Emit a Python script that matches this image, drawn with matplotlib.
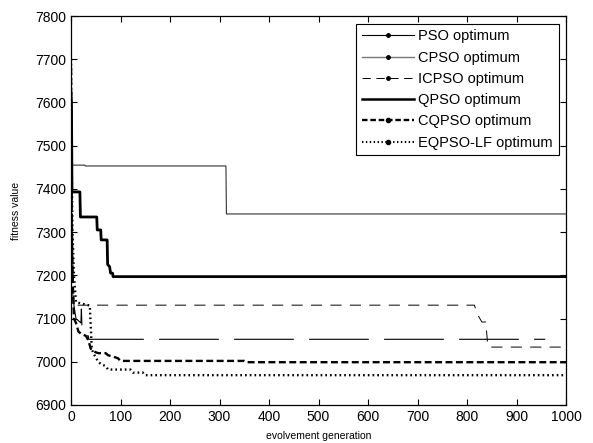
import matplotlib
matplotlib.use('Agg')
import matplotlib.pyplot as plt
from matplotlib.lines import Line2D

plt.rcParams['font.family'] = ['Liberation Sans', 'DejaVu Sans']
plt.rcParams['lines.scale_dashes'] = False

# convergence curves
pso_x = [1, 28, 29, 313, 314, 1000]
pso_y = [7455, 7455, 7453, 7453, 7342, 7342]

cpso_x = [1, 3, 6, 10, 15, 20, 21, 22, 28, 29, 35, 36, 958]
cpso_y = [7500, 7250, 7130, 7100, 7095, 7090, 7122, 7085, 7085, 7060, 7060, 7052, 7052]

icpso_x = [0, 2, 4, 815, 820, 830, 838, 842, 848, 1000]
icpso_y = [7750, 7300, 7131, 7131, 7112, 7092, 7092, 7036, 7034, 7034]

qpso_x = [0, 1, 2, 18, 19, 52, 53, 60, 61, 73, 74, 78, 80, 84, 85, 1000]
qpso_y = [7620, 7590, 7393, 7393, 7335, 7335, 7305, 7305, 7282, 7282, 7225, 7220, 7205, 7205, 7197, 7197]

cqpso_x = [0, 1, 3, 6, 10, 15, 20, 30, 35, 40, 45, 50, 55, 70, 75, 85, 95, 100, 350, 355, 1000]
cqpso_y = [7680, 7400, 7200, 7100, 7090, 7070, 7065, 7060, 7050, 7030, 7025, 7022, 7020, 7020,
           7015, 7012, 7008, 7002, 7002, 6999, 6999]

eqpso_x = [0, 1, 3, 6, 10, 38, 40, 42, 45, 50, 55, 60, 70, 75, 120, 125, 145, 150, 1000]
eqpso_y = [7700, 7500, 7300, 7200, 7138, 7130, 7080, 7030, 7020, 7010, 7000, 6995, 6990, 6982,
           6982, 6975, 6975, 6969, 6969]

labels = ['PSO optimum', 'CPSO optimum', 'ICPSO optimum', 'QPSO optimum',
          'CQPSO optimum', 'EQPSO-LF optimum']

fig = plt.figure(figsize=(5.93, 4.43), dpi=100)
ax = fig.add_axes([71 / 593, 1 - 405 / 443, 495 / 593, 389 / 443])

ax.plot(pso_x, pso_y, color='#333333', lw=0.8)
ax.plot(cpso_x, cpso_y, color='black', lw=0.8, linestyle=(0, (43, 11)))
ax.plot(icpso_x, icpso_y, color='black', lw=0.7, linestyle=(0, (8, 6)))
ax.plot(qpso_x, qpso_y, color='black', lw=2.0)
ax.plot(cqpso_x, cqpso_y, color='black', lw=1.7, linestyle=(0, (5, 2.5)))
ax.plot(eqpso_x, eqpso_y, color='black', lw=1.7, linestyle=(0, (1.2, 2.2)))

ax.set_xlim(0, 1000)
ax.set_ylim(6900, 7800)
ax.set_xticks(range(0, 1001, 100))
ax.set_yticks(range(6900, 7801, 100))
ax.tick_params(direction='in', length=4, top=True, right=True, labelsize=10)
for s in ax.spines.values():
    s.set_linewidth(0.9)

ax.set_xlabel('evolvement generation', fontsize=7.5, labelpad=5)
ax.set_ylabel('fitness value', fontsize=7.5, labelpad=10)

handles = [
    Line2D([], [], color='black', lw=0.8, marker='.', markersize=5),
    Line2D([], [], color='#777777', lw=1.0, marker='.', markersize=5, markerfacecolor='black', markeredgecolor='black'),
    Line2D([], [], color='black', lw=0.7, linestyle=(0, (6, 4)), marker='.', markersize=5),
    Line2D([], [], color='black', lw=1.8),
    Line2D([], [], color='black', lw=1.7, linestyle=(0, (4, 2)), marker='.', markersize=6),
    Line2D([], [], color='black', lw=1.5, linestyle=(0, (1, 1.8)), marker='.', markersize=6),
]
leg = ax.legend(handles, labels, loc='upper right', bbox_to_anchor=(0.985, 0.98),
                fontsize=10.5, numpoints=1, handlelength=3.6, handletextpad=0.3,
                labelspacing=0.5, borderpad=0.38, fancybox=False, framealpha=1,
                edgecolor='black', borderaxespad=0)
leg.get_frame().set_linewidth(0.8)

fig.savefig('out.png', dpi=100)
